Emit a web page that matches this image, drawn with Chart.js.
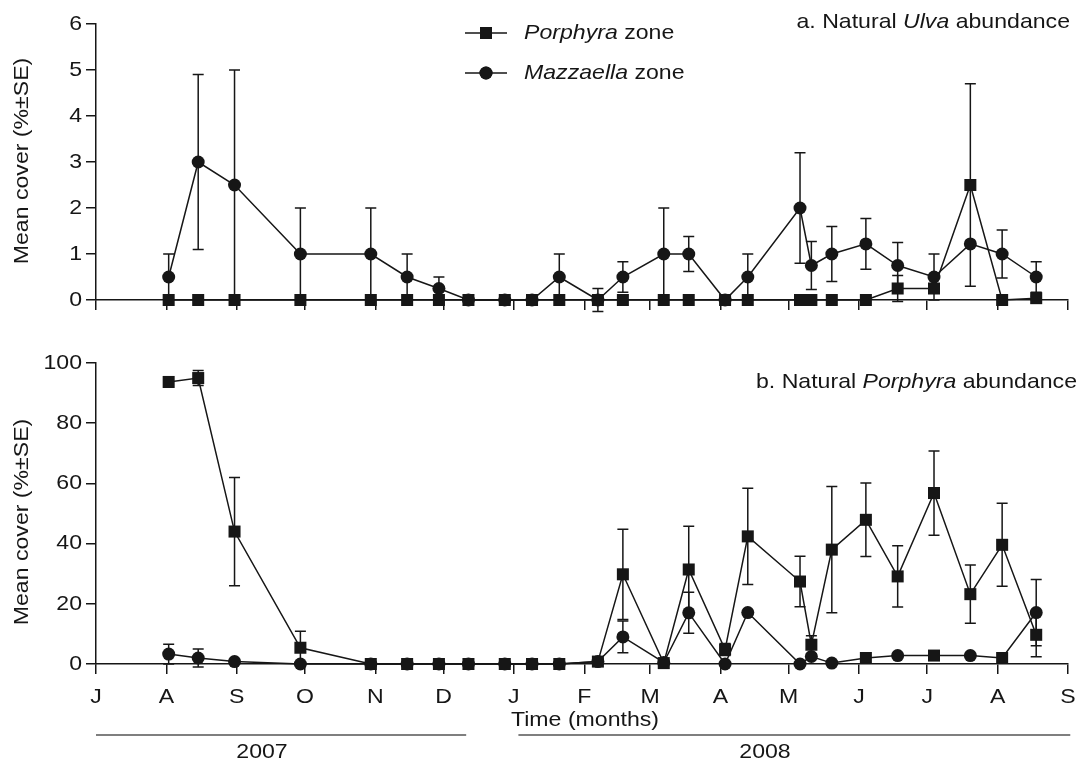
<!DOCTYPE html>
<html><head><meta charset="utf-8">
<script src="https://cdn.jsdelivr.net/npm/chart.js@4.4.1/dist/chart.umd.min.js"></script>
<style>
html,body{margin:0;padding:0;background:#fff;}
#wrap{position:relative;width:1086px;height:762px;overflow:hidden;background:#fff;}
canvas{position:absolute;left:0;}
</style></head><body>
<div id="wrap">
<canvas id="top" width="1086" height="340" style="top:0px"></canvas>
<canvas id="bot" width="1086" height="432" style="top:330px"></canvas>
</div>
<script>
// ---------- data ----------
const sampleDates = ['2007-08-02','2007-08-15','2007-08-31','2007-09-29','2007-10-30','2007-11-15','2007-11-29','2007-12-12','2007-12-28','2008-01-09','2008-01-21','2008-02-07','2008-02-18','2008-03-07','2008-03-18','2008-04-03','2008-04-13','2008-05-06','2008-05-11','2008-05-20','2008-06-04','2008-06-18','2008-07-04','2008-07-20','2008-08-03','2008-08-18'];
const monthTickDates = ['2007-07-01','2007-08-01','2007-09-01','2007-10-01','2007-11-01','2007-12-01','2008-01-01','2008-02-01','2008-03-01','2008-04-01','2008-05-01','2008-06-01','2008-07-01','2008-08-01','2008-09-01'];
const monthLabels = ['J','A','S','O','N','D','J','F','M','A','M','J','J','A','S'];
const ulvaYTicks = [0,1,2,3,4,5,6];
const porYTicks = [0,20,40,60,80,100];

// a. Natural Ulva abundance
const ulvaPorphyraZone   = [0,0,0,0,0,0,0,0,0,0,0,0,0,0,0,0,0,0,0,0,0,0.25,0.25,2.5,0,0.04];
const ulvaPorphyraZoneSE = [0,0,0,0,0,0,0,0,0,0,0,0,0,0,0,0,0,0,0,0,0,0.28,0,2.2,0,0.04];
const ulvaMazzaellaZone   = [0.5,3.0,2.5,1.0,1.0,0.5,0.25,0,0,0,0.5,0,0.5,1.0,1.0,0,0.5,2.0,0.75,1.0,1.22,0.75,0.5,1.22,1.0,0.5];
const ulvaMazzaellaZoneSE = [0.5,1.9,2.5,1.0,1.0,0.5,0.25,0,0,0,0.5,0.25,0.33,1.0,0.38,0,0.5,1.2,0.52,0.6,0.55,0.5,0.5,0,0.52,0.33];

// b. Natural Porphyra abundance
const porPorphyraZone   = [93.7,95.0,44.0,5.4,0,0,0,0,0,0,0,0.8,29.8,0.3,31.4,4.8,42.4,27.4,6.4,38.0,47.9,29.1,56.8,23.2,39.6,9.7];
const porPorphyraZoneSE = [0,2.5,18,5.5,0,0,0,0,0,0,0,0,15,0,14.4,2,16,8.4,3,21,12.2,10.2,14,9.7,13.8,7.3];
const porMazzaellaZone   = [3.3,2.0,0.8,0,0,0,0,0,0,0,0,0.8,9.0,0.5,17.0,0,17.1,0,2.5,0.3,2.0,2.8,2.8,2.8,2.0,17.1];
const porMazzaellaZoneSE = [3.3,3.0,0,0,0,0,0,0,0,0,0,0,5.3,0,6.8,0,0,0,0,0,0,0,0,0,0,11];

// year bands under the axis (start date, end date, label)
const yearBands = [['2007-07-01','2007-12-11','2007'],['2008-01-03','2008-09-02','2008']];

// ---------- helpers ----------
const DAY0 = Date.UTC(2007,6,1);
const toDay = s => { const [y,m,d] = s.split('-').map(Number); return (Date.UTC(y,m-1,d)-DAY0)/86400000; };
const xs = sampleDates.map(toDay);
const monthTicks = monthTickDates.map(toDay);
const pts = vals => vals.map((v,i)=>({x:xs[i], y:v}));

const INK = '#161616';
const FONT = "'Liberation Sans', Arial, Helvetica, sans-serif";
const FS = 21;
const SX = 1.1;   // printed text is slightly wide

// marker style for the lower Mazzaella series as printed in the figure
const porMazzaellaMarkers = porMazzaellaZone.map((v,i)=> (i===20||i===22||i===24) ? 'rect' : 'circle');

function drawRich(ctx, parts, x, y, align){
  const widths = parts.map(([t,it]) => { ctx.font = (it?'italic ':'') + FS + 'px ' + FONT; return ctx.measureText(t).width; });
  const total = widths.reduce((a,b)=>a+b,0) * SX;
  const x0 = align==='right' ? x-total : align==='center' ? x-total/2 : x;
  ctx.save();
  ctx.translate(x0, y); ctx.scale(SX, 1);
  ctx.textAlign = 'left'; ctx.textBaseline = 'middle'; ctx.fillStyle = INK;
  let cx = 0;
  parts.forEach(([t,it],i)=>{ ctx.font = (it?'italic ':'') + FS + 'px ' + FONT; ctx.fillText(t, cx, 0); cx += widths[i]; });
  ctx.restore();
}

const errorBars = {
  id:'errorBars',
  beforeDatasetsDraw(chart){
    const ctx = chart.ctx, ys = chart.scales.y;
    chart.data.datasets.forEach((ds, di) => {
      const se = ds.errors; if(!se) return;
      const meta = chart.getDatasetMeta(di);
      ctx.save(); ctx.strokeStyle = INK; ctx.lineWidth = 1.5;
      meta.data.forEach((p,i) => {
        const e = se[i]; if(!e) return;
        const v = ds.data[i].y;
        const yt = ys.getPixelForValue(v+e), yb = ys.getPixelForValue(v-e);
        ctx.beginPath();
        ctx.moveTo(p.x, yt); ctx.lineTo(p.x, yb);
        ctx.moveTo(p.x-5.5, yt); ctx.lineTo(p.x+5.5, yt);
        ctx.moveTo(p.x-5.5, yb); ctx.lineTo(p.x+5.5, yb);
        ctx.stroke();
      });
      ctx.restore();
    });
  }
};

// tick labels drawn from the scales, with the same stretched lettering
const tickLabels = {
  id:'tickLabels',
  afterDraw(chart){
    const ctx = chart.ctx, xsc = chart.scales.x, ysc = chart.scales.y;
    ysc.ticks.forEach(t => {
      drawRich(ctx, [[String(t.value),false]], 82, ysc.getPixelForValue(t.value), 'right');
    });
    if (chart.options.showMonthLabels) {
      const yy = xsc.top + 33;
      xsc.ticks.forEach((t,i) => {
        drawRich(ctx, [[monthLabels[i],false]], xsc.getPixelForValue(t.value), yy, 'center');
      });
    }
  }
};

function yTitle(ctx, cx, cy){
  const txt = 'Mean cover (%\u00B1SE)';
  ctx.save(); ctx.translate(cx, cy); ctx.rotate(-Math.PI/2); ctx.scale(SX, 1);
  ctx.font = FS + 'px ' + FONT; ctx.fillStyle = INK; ctx.textAlign='center'; ctx.textBaseline='middle';
  ctx.fillText(txt, 0, 0); ctx.restore();
}

const topDecor = {
  id:'topDecor',
  afterDraw(chart){
    const ctx = chart.ctx;
    ctx.save();
    drawRich(ctx, [['a. Natural ',false],['Ulva',true],[' abundance',false]], 1070, 22, 'right');
    yTitle(ctx, 22, 161);
    const rows = [[33,'rect',['Porphyra',' zone']],[73,'circle',['Mazzaella',' zone']]];
    rows.forEach(([y, st, txt]) => {
      ctx.strokeStyle = INK; ctx.lineWidth = 1.5;
      ctx.beginPath(); ctx.moveTo(465,y); ctx.lineTo(507,y); ctx.stroke();
      ctx.fillStyle = INK;
      Chart.helpers.drawPoint(ctx, {pointStyle: st, radius: st==='rect'?8.5:6.5, borderWidth:0}, 486, y);
      ctx.fill();
      drawRich(ctx, [[txt[0],true],[txt[1],false]], 524, y, 'left');
    });
    ctx.restore();
  }
};

const botDecor = {
  id:'botDecor',
  afterDraw(chart){
    const ctx = chart.ctx, xsc = chart.scales.x;
    ctx.save();
    drawRich(ctx, [['b. Natural ',false],['Porphyra',true],[' abundance',false]], 1077, 52, 'right');
    yTitle(ctx, 22, 192);
    drawRich(ctx, [['Time (months)',false]], 585, 390, 'center');
    yearBands.forEach(([a,b,label]) => {
      const x1 = xsc.getPixelForValue(toDay(a)), x2 = xsc.getPixelForValue(toDay(b));
      ctx.strokeStyle = '#555'; ctx.lineWidth = 1.5;
      ctx.beginPath(); ctx.moveTo(x1, 405); ctx.lineTo(x2, 405); ctx.stroke();
    });
    drawRich(ctx, [[yearBands[0][2],false]], 262, 422, 'center');
    drawRich(ctx, [[yearBands[1][2],false]], 765, 422, 'center');
    ctx.restore();
  }
};

function xScale(h){
  return {
    type:'linear', min:0, max:428,
    afterBuildTicks: s => { s.ticks = monthTicks.map(v=>({value:v})); },
    ticks:{ display:false, autoSkip:false, maxRotation:0 },
    grid:{ drawOnChartArea:false, drawTicks:true, tickLength:10, color:INK, lineWidth:1.5 },
    border:{ color:INK, width:1.5 },
    afterFit: s => { s.height = h; }
  };
}
function yScale(min, max, tickVals){
  return {
    type:'linear', min:min, max:max,
    afterBuildTicks: s => { s.ticks = tickVals.map(v=>({value:v})); },
    ticks:{ display:false },
    grid:{ drawOnChartArea:false, drawTicks:true, tickLength:10, color:INK, lineWidth:1.5 },
    border:{ color:INK, width:1.5 },
    afterFit: s => { s.width = 96; }
  };
}
function series(vals, se, style, radius){
  return { data:pts(vals), errors:se, borderColor:INK, borderWidth:1.5, backgroundColor:INK,
    pointStyle:style, pointRadius:radius, pointHoverRadius:radius, pointBackgroundColor:INK, pointBorderWidth:0,
    tension:0, fill:false, clip:false };
}
const common = { responsive:false, animation:false, devicePixelRatio:1,
  plugins:{ legend:{display:false}, tooltip:{enabled:false} }, events:[] };

new Chart(document.getElementById('top'), {
  type:'line',
  data:{ datasets:[ series(ulvaPorphyraZone, ulvaPorphyraZoneSE, 'rect', 8.5), series(ulvaMazzaellaZone, ulvaMazzaellaZoneSE, 'circle', 6.5) ] },
  options:Object.assign({}, common, {
    showMonthLabels:false,
    layout:{ padding:{ left:0, right:18, top:24, bottom:0 } },
    scales:{ x:xScale(40), y:yScale(0, 6, ulvaYTicks) }
  }),
  plugins:[errorBars, tickLabels, topDecor]
});

const mz = series(porMazzaellaZone, porMazzaellaZoneSE, porMazzaellaMarkers, porMazzaellaMarkers.map(s=>s==='rect'?8.5:6.5));
new Chart(document.getElementById('bot'), {
  type:'line',
  data:{ datasets:[ series(porPorphyraZone, porPorphyraZoneSE, 'rect', 8.5), mz ] },
  options:Object.assign({}, common, {
    showMonthLabels:true,
    layout:{ padding:{ left:0, right:18, top:33, bottom:0 } },
    scales:{ x:xScale(98), y:yScale(0, 100, porYTicks) }
  }),
  plugins:[errorBars, tickLabels, botDecor]
});
</script>
</body></html>
